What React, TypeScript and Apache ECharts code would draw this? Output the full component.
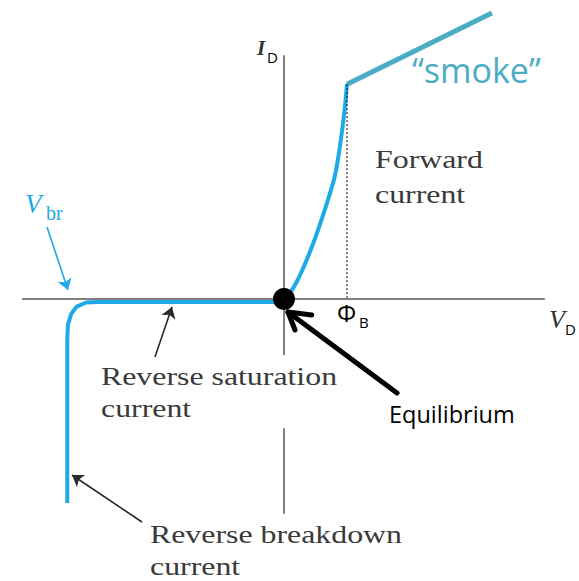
import React, { useEffect, useRef } from "react";
import * as echarts from "echarts";

// Axis segments (V, I) in units where Phi_B = 1
const hAxisSeg = [[-4.16, 0], [4.14, 0]];
const vAxisTop = [[0, 3.87], [0, -0.89]];
const vAxisBottom = [[0, -2.05], [0, -3.41]];

// Reverse branch (breakdown + saturation)
const reverseV = [-3.44, -3.44, -3.43, -3.38, -3.29, -3.14, -2.97, -0.1, 0];
const reverseI = [-3.24, -0.65, -0.41, -0.24, -0.12, -0.055, -0.048, -0.048, -0.016];

// Forward branch
const forwardV = [0, 0.05, 0.1, 0.2, 0.3, 0.4, 0.5, 0.6, 0.7, 0.8, 0.86, 0.92, 0.97, 1.0];
const forwardI = [0, 0.04, 0.1, 0.27, 0.48, 0.72, 0.98, 1.27, 1.58, 1.92, 2.24, 2.66, 3.08, 3.41];

// "smoke" line
const smokeV = [1.0, 3.3];
const smokeI = [3.41, 4.54];

// Phi_B marker
const phiB = 1.0;
const phiBTop = 3.41;

// Equilibrium point
const equilibrium = [0, 0];

// Annotation arrows [tail, tip]
const vbrArrow = [[-3.762, 1.143], [-3.429, 0.143]];
const satArrow = [[-2.048, -0.921], [-1.778, -0.127]];
const bdArrow = [[-2.254, -3.54], [-3.365, -2.794]];
const eqShaft = [[1.794, -1.492], [0.063, -0.206]];
const eqHead = [[0.44, -0.254], [0.063, -0.206], [0.175, -0.492]];

const BLUE = "#1eaae6";
const TEAL = "#4bacc6";
const SERIF = '"Liberation Serif", "Times New Roman", serif';
const SANS = '"Open Sans", "Noto Sans", sans-serif';

function txt(
  text: string,
  x: number,
  baseline: number,
  size: number,
  family: string,
  fill: string,
  opts: { italic?: boolean; bold?: boolean; scaleX?: number; k?: number } = {}
) {
  const k = opts.k ?? (family === SERIF ? 0.34 : 0.38);
  const font = `${opts.italic ? "italic " : ""}${opts.bold ? "bold " : ""}${size}px ${family}`;
  return {
    type: "text",
    x,
    y: baseline - k * size,
    scaleX: opts.scaleX ?? 1,
    z: 100,
    style: {
      text,
      font,
      fill,
      textAlign: "left",
      align: "left",
      textVerticalAlign: "middle",
      verticalAlign: "middle",
    },
  };
}

export default function App() {
  const ref = useRef<HTMLDivElement>(null);

  useEffect(() => {
    document.body.style.margin = "0";
    if (!ref.current) return;
    const chart = echarts.init(ref.current, undefined, { renderer: "svg" });

    const zip = (a: number[], b: number[]) => a.map((v, i) => [v, b[i]]);
    const SX = 1.225;
    const serifColor = "#3a3a3a";

    chart.setOption({
      animation: false,
      backgroundColor: "#ffffff",
      grid: { left: 0.5, top: 2.9, width: 567, height: 573.3 },
      xAxis: { type: "value", min: -4.5, max: 4.5, show: false },
      yAxis: { type: "value", min: -4.4, max: 4.7, show: false },
      series: [
        {
          type: "lines",
          coordinateSystem: "cartesian2d",
          silent: true,
          z: 1,
          lineStyle: { color: "#808080", width: 2, opacity: 1 },
          data: [{ coords: hAxisSeg }, { coords: vAxisTop }, { coords: vAxisBottom }],
        },
        {
          type: "line",
          z: 3,
          showSymbol: false,
          data: zip(reverseV, reverseI),
          lineStyle: { color: BLUE, width: 4, join: "round" },
        },
        {
          type: "line",
          z: 3,
          showSymbol: false,
          smooth: 0.3,
          data: zip(forwardV, forwardI),
          lineStyle: { color: BLUE, width: 4, join: "round" },
        },
        {
          type: "line",
          z: 4,
          showSymbol: false,
          data: zip(smokeV, smokeI),
          lineStyle: { color: TEAL, width: 5 },
        },
        {
          type: "line",
          z: 5,
          showSymbol: false,
          data: [[phiB, phiBTop], [phiB, 0]],
          lineStyle: { color: "#000000", width: 1, type: [2, 2] },
        },
        {
          type: "lines",
          coordinateSystem: "cartesian2d",
          z: 6,
          symbol: ["none", "arrow"],
          symbolSize: 11,
          lineStyle: { color: BLUE, width: 1.6, opacity: 1 },
          data: [{ coords: vbrArrow }],
        },
        {
          type: "lines",
          coordinateSystem: "cartesian2d",
          z: 6,
          symbol: ["none", "arrow"],
          symbolSize: 11,
          lineStyle: { color: "#2a2a2a", width: 1.6, opacity: 1 },
          data: [{ coords: satArrow }, { coords: bdArrow }],
        },
        {
          type: "scatter",
          z: 7,
          symbol: "circle",
          symbolSize: 22,
          itemStyle: { color: "#000000", opacity: 1 },
          data: [equilibrium],
        },
        {
          type: "lines",
          coordinateSystem: "cartesian2d",
          polyline: true,
          z: 8,
          lineStyle: { color: "#000000", width: 5, opacity: 1, cap: "round", join: "round" },
          data: [{ coords: eqShaft }, { coords: eqHead }],
        },
      ],
      graphic: [
        txt("I", 257, 55, 21, SERIF, "#333333", { italic: true, bold: true }),
        txt("D", 267, 63, 15, SANS, "#000000"),
        txt("V", 549, 328, 26, SERIF, "#333333", { italic: true }),
        txt("D", 565, 335, 15, SANS, "#000000"),
        txt("Φ", 337, 322, 24, SANS, "#000000"),
        txt("B", 359, 328, 15, SANS, "#000000"),
        txt("V", 25, 213, 27, SERIF, BLUE, { italic: true }),
        txt("br", 46, 220, 20, SERIF, BLUE),
        txt("“smoke”", 412, 83, 34, SANS, TEAL),
        txt("Forward", 375, 168, 26, SERIF, serifColor, { scaleX: SX }),
        txt("current", 375, 203, 26, SERIF, serifColor, { scaleX: SX }),
        txt("Reverse saturation", 101, 385, 26, SERIF, serifColor, { scaleX: SX }),
        txt("current", 101, 417, 26, SERIF, serifColor, { scaleX: SX }),
        txt("Reverse breakdown", 150, 543, 26, SERIF, serifColor, { scaleX: SX }),
        txt("current", 150, 575, 26, SERIF, serifColor, { scaleX: SX }),
        txt("Equilibrium", 389, 423, 23.5, SANS, "#000000"),
      ],
    });

    return () => chart.dispose();
  }, []);

  return <div ref={ref} style={{ width: 579, height: 581 }} />;
}
